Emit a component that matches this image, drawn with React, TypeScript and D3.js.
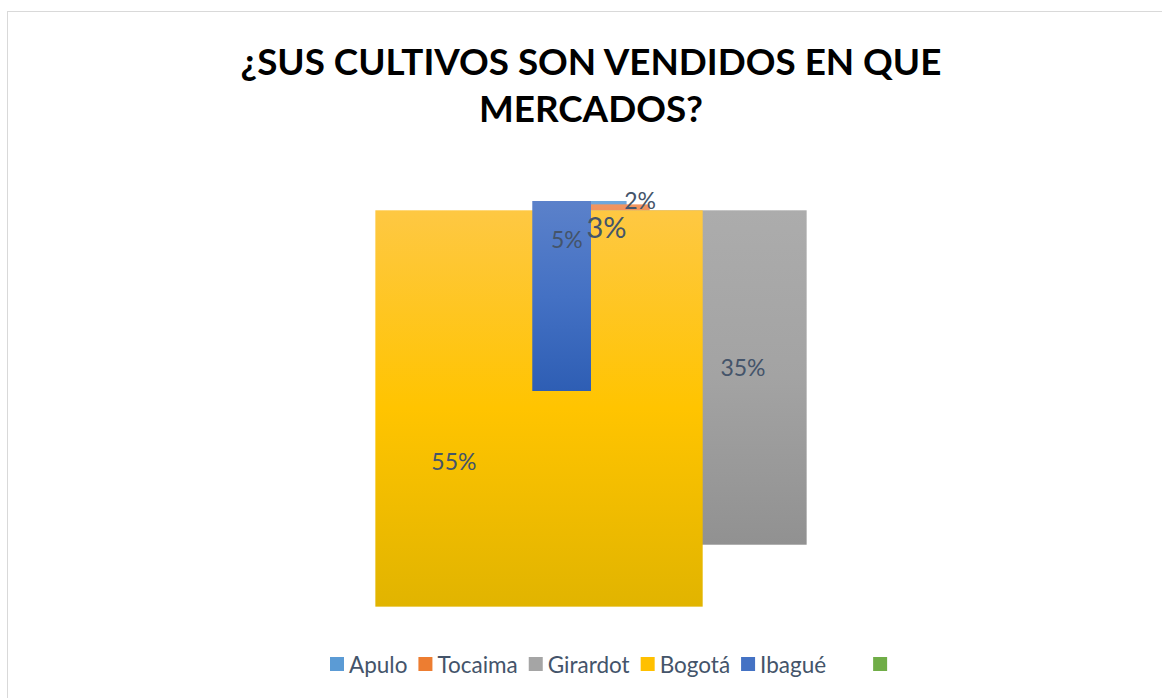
import React, { useEffect, useRef } from 'react'
import * as d3 from 'd3'

// data
const categories = ['Apulo', 'Tocaima', 'Girardot', 'Bogotá', 'Ibagué', '']
const values = [3, 2, 35, 55, 5, 0]
const labels = ['3%', '2%', '35%', '55%', '5%', '']
const titleLines = ['¿SUS CULTIVOS SON VENDIDOS EN QUE', 'MERCADOS?']

// colours (legend swatch, gradient top / middle / bottom)
const baseColors = ['#5B9BD5', '#ED7D31', '#A5A5A5', '#FFC000', '#4472C4', '#70AD47']
const topColors = ['#6FA8DC', '#F19560', '#ACACAC', '#FEC843', '#5B81CA', '#80BA5A']
const midColors = ['#5B9BD5', '#ED7D31', '#A3A3A3', '#FFC400', '#4471C4', '#70AD47']
const bottomColors = ['#4A8BC8', '#E06C20', '#919191', '#E1B400', '#2E5EB4', '#5E9A38']

const W = 1162
const H = 698
const FONT = 'Lato, "Open Sans", sans-serif'
const TEXT = '#44546A'

const App = () => {
  const ref = useRef<SVGSVGElement>(null)

  useEffect(() => {
    const svg = d3.select(ref.current)
    svg.selectAll('*').remove()

    // chart area frame
    svg.append('rect')
      .attr('x', 7.5).attr('y', 11.5)
      .attr('width', 1160).attr('height', 700)
      .attr('fill', '#fff')
      .attr('stroke', '#D9D9D9')

    // title, fitted to the width it has in the picture
    const title = svg.append('g')
    titleLines.forEach((t, i) => {
      title.append('text')
        .attr('x', 591).attr('y', 75 + i * 47)
        .attr('text-anchor', 'middle')
        .style('font-family', FONT)
        .style('font-weight', 700)
        .style('font-size', '36px')
        .attr('fill', '#000')
        .text(t)
    })
    const first = title.select('text').node() as SVGTextElement
    const size = 36 * 701 / first.getComputedTextLength()
    title.selectAll('text').style('font-size', size + 'px')

    // pie geometry; each slice is painted as its box
    const cx = 591
    const cy = 391
    const r = d3.scaleLinear().domain([0, 1]).range([0, 190])
    const R = r(1)
    const Rx = r(1.135)

    const pie = d3.pie<number>().sort(null).value(d => d)
    const arcs = pie(values)

    const slices = arcs.map((a, i) => {
      const pts: [number, number][] = [
        [0, 0],
        [R * Math.sin(a.startAngle), -R * Math.cos(a.startAngle)],
        [R * Math.sin(a.endAngle), -R * Math.cos(a.endAngle)],
      ]
      for (let k = 0; k <= 4; k++) {
        const c = k * Math.PI / 2
        if (c > a.startAngle + 1e-6 && c < a.endAngle - 1e-6) pts.push([Rx * Math.sin(c), -Rx * Math.cos(c)])
      }
      const [x0, x1] = d3.extent(pts, p => p[0]) as [number, number]
      const [y0, y1] = d3.extent(pts, p => p[1]) as [number, number]
      return { a, i, x0, x1, y0, y1 }
    }).filter(s => s.a.value > 0)

    const defs = svg.append('defs')
    slices.forEach(s => {
      const g = defs.append('linearGradient')
        .attr('id', 'g' + s.i)
        .attr('x1', 0).attr('y1', 0).attr('x2', 0).attr('y2', 1)
      g.append('stop').attr('offset', 0).attr('stop-color', topColors[s.i])
      g.append('stop').attr('offset', 0.5).attr('stop-color', midColors[s.i])
      g.append('stop').attr('offset', 1).attr('stop-color', bottomColors[s.i])
    })

    const plot = svg.append('g').attr('transform', `translate(${cx},${cy})`)
    plot.selectAll('rect.slice')
      .data(slices)
      .join('rect')
      .attr('class', 'slice')
      .attr('x', d => d.x0)
      .attr('y', d => d.y0)
      .attr('width', d => d.x1 - d.x0)
      .attr('height', d => d.y1 - d.y0)
      .attr('fill', d => `url(#g${d.i})`)

    // data labels
    const labelRadius: Record<string, number> = { Apulo: 0.87, Tocaima: 1.04 }
    const labelSize: Record<string, number> = { Apulo: 29 }
    plot.selectAll('text.lbl')
      .data(slices)
      .join('text')
      .attr('class', 'lbl')
      .attr('transform', d => {
        const rr = R * (labelRadius[categories[d.i]] ?? 0.81)
        const c = d3.arc<d3.PieArcDatum<number>>().innerRadius(rr).outerRadius(rr).centroid(d.a)
        return `translate(${c[0]},${c[1]})`
      })
      .attr('text-anchor', 'middle')
      .attr('dominant-baseline', 'central')
      .style('font-family', FONT)
      .style('font-size', d => (labelSize[categories[d.i]] ?? 23) + 'px')
      .attr('fill', TEXT)
      .text(d => labels[d.i])

    // legend
    const legend = svg.append('g').attr('transform', 'translate(0,664)')
    let x = 330
    categories.forEach((c, i) => {
      if (c === '') x += 36
      legend.append('rect')
        .attr('x', x).attr('y', -7)
        .attr('width', 14).attr('height', 14)
        .attr('fill', baseColors[i])
      const t = legend.append('text')
        .attr('x', x + 19).attr('y', 0)
        .attr('dominant-baseline', 'central')
        .style('font-family', FONT)
        .style('font-size', '22.5px')
        .attr('fill', TEXT)
        .text(c)
      x += 19 + (t.node() as SVGTextElement).getComputedTextLength() + 11
    })
  }, [])

  return (
    <svg ref={ref} width={W} height={H}
      style={{ position: 'absolute', left: 0, top: 0, background: '#fff' }} />
  )
}

export default App
